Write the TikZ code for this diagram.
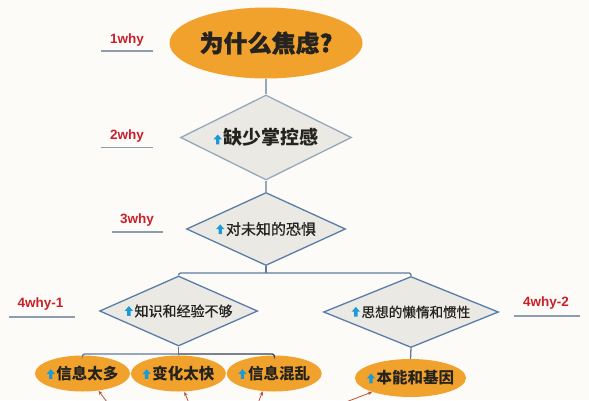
\documentclass[tikz,border=0pt]{standalone}
\usepackage{fontspec}
\usetikzlibrary{shapes.geometric,arrows.meta}
\newfontfamily\cjk{Noto Sans CJK SC}
\newfontfamily\cjkmed{Noto Sans CJK SC}[FakeBold=0.6]
\newfontfamily\cjkheavy{Noto Sans CJK SC}[BoldFeatures={FakeBold=1.2}]
\newfontfamily\lblfont{Liberation Sans}
\definecolor{bgc}{HTML}{FCFBF8}
\definecolor{orng}{HTML}{F0A22C}
\definecolor{dfill}{HTML}{EAE9E4}
\definecolor{dlight}{HTML}{97A7BB}
\definecolor{ddark}{HTML}{5A7CA6}
\definecolor{conn}{HTML}{5F7DA2}
\definecolor{conndark}{HTML}{34425A}
\definecolor{txt}{HTML}{252320}
\definecolor{lblred}{HTML}{C8202A}
\definecolor{ulc}{HTML}{8E9CB0}
\definecolor{iconc}{HTML}{1C9AD6}
\definecolor{arrc}{HTML}{B8553F}
\newcommand\upic{\tikz[baseline=-0.5pt,x=1pt,y=1pt]\fill[iconc] (-1.7,0) -- (-1.7,5) -- (-4.2,5) -- (0,9.8) -- (4.2,5) -- (1.7,5) -- (1.7,0) -- cycle;\hspace{1.5pt}}
\newcommand\ctr[1]{\makebox[0pt][c]{#1}}
\begin{document}
\begin{tikzpicture}[x=1pt,y=-1pt,
  topell/.style={ellipse,fill=orng,inner sep=0pt,text=txt,font=\cjkheavy\bfseries\fontsize{24}{24}\selectfont},
  leaf/.style={ellipse,fill=orng,inner sep=0pt,minimum width=95pt,minimum height=36pt,text=txt,font=\cjk\bfseries\fontsize{15.5}{15.5}\selectfont},
  dia/.style={diamond,aspect=3,inner sep=0pt,fill=dfill,draw=ddark,line width=1.3pt,text=txt,font=\cjkmed\fontsize{14}{14}\selectfont},
  lbl/.style={text=lblred,font=\lblfont\bfseries\fontsize{13.5}{13.5}\selectfont,inner sep=0pt},
  uline/.style={draw=ulc,line width=1.1pt},
  conline/.style={draw=conn,line width=1.3pt},
  redarr/.style={draw=arrc,line width=0.8pt,-{Stealth[length=4.5pt,width=3.6pt]}}
]
\fill[bgc] (0,0) rectangle (589,400);
\useasboundingbox (0,0) rectangle (589,400);
\clip (0,0) rectangle (589,400);

% top question
\node[topell,minimum width=193pt,minimum height=71pt] (q) at (266,43) {\ctr{为什么焦虑?}};

% diamonds
\node[dia,draw=dlight,minimum width=171pt,minimum height=85pt,font=\cjk\bfseries\fontsize{19}{19}\selectfont] (d2) at (266,137.5) {\ctr{\upic 缺少掌控感}};
\node[dia,minimum width=159pt,minimum height=73pt,font=\cjkmed\fontsize{15}{15}\selectfont] (d3) at (266,229) {\ctr{\upic 对未知的恐惧}};
\node[dia,minimum width=158pt,minimum height=70pt] (d4a) at (178.6,311) {\ctr{\upic 知识和经验不够}};
\node[dia,minimum width=175pt,minimum height=71pt,font=\cjkmed\fontsize{13.6}{13.6}\selectfont] (d4b) at (411,312) {\ctr{\upic 思想的懒惰和惯性}};

% leaves
\node[leaf] (e1) at (82.5,373.5) {\ctr{\upic 信息太多}};
\node[leaf] (e2) at (178.4,373.5) {\ctr{\upic 变化太快}};
\node[leaf] (e3) at (274.2,373.5) {\ctr{\upic 信息混乱}};
\node[leaf,minimum width=111pt,minimum height=38pt] (e4) at (410.5,378) {\ctr{\upic 本能和基因}};

% connectors
\coordinate (j1) at (266,273);
\coordinate (j2) at (178.6,354);
\draw[conline,draw=dlight] (q.south) -- (d2.north);
\draw[conline,draw=dlight] (d2.south) -- (d3.north);
\draw[conline] (d3.south) -- (j1);
\draw[conline,rounded corners=2pt] (d4a.north) |- (j1) -| (d4b.north);
\draw[conline] (d4a.south) -- (j2);
\draw[conline,rounded corners=2pt] (e1.north) |- (j2);
\draw[conline,draw=conndark,rounded corners=2pt] (j2) -| (e3.north);
\draw[conline] (j2) -- (e2.north);
\draw[conline] (d4b.south) -- (e4.north);

% why labels
\node[lbl] (l1) at (127,40) {1why};
\node[lbl] (l2) at (127,136) {2why};
\node[lbl] (l3) at (137,220) {3why};
\node[lbl] (l4) at (40.5,304) {4why-1};
\node[lbl] (l5) at (546,303) {4why-2};
\draw[uline] (101,51) -- (153,51);
\draw[uline] (101,147.5) -- (153,147.5);
\draw[uline] (111.5,232) -- (163,232);
\draw[uline] (8.5,317) -- (74.5,317);
\draw[uline] (514,316) -- (580,316);

% red arrows from below
\coordinate (a1) at (107,402);
\coordinate (a2) at (188.5,402);
\coordinate (a3) at (258.5,402);
\coordinate (a4) at (346,402);
\draw[redarr] (a1) -- (e1.-47);
\draw[redarr] (a2) -- (e2.-72);
\draw[redarr] (a3) -- (e3.-123);
\draw[redarr] (a4) -- (e4.-160);
\end{tikzpicture}
\end{document}
